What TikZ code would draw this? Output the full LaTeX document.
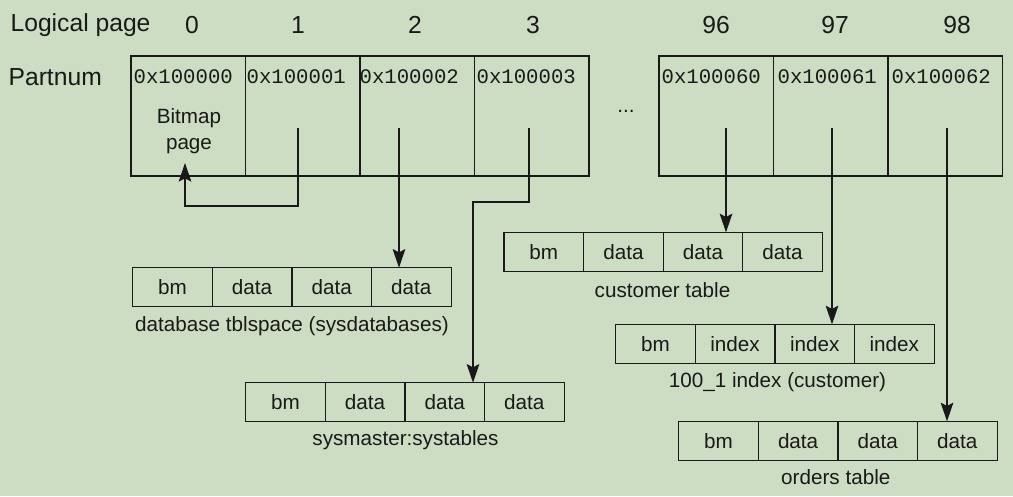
\documentclass[tikz,border=0pt]{standalone}
\usepackage{fontspec}
\setmainfont{Liberation Sans}
\newfontfamily\hexfont{Liberation Mono}
\usetikzlibrary{positioning,arrows.meta}
\definecolor{sheet}{RGB}{205,221,195}
\definecolor{ink}{RGB}{25,25,25}
\tikzset{
	pagecell/.style={draw=ink, minimum width=85.875pt, minimum height=90pt, inner sep=0pt, outer sep=0pt},
	slot/.style={draw=ink, minimum width=59.7pt, minimum height=29.25pt, inner sep=0pt, outer sep=0pt, font=\fontsize{15.5}{18}\selectfont},
	hex/.style={anchor=west, inner sep=0pt, font=\hexfont\fontsize{15.5}{18}\selectfont},
	head/.style={inner sep=0pt, font=\fontsize{18.5}{22}\selectfont},
	caption/.style={inner sep=0pt, font=\fontsize{15.5}{18}\selectfont},
	ptr/.style={draw=ink, -{Stealth[length=14pt,width=9.5pt,inset=2.5pt]}},
}
\begin{document}
		\begin{tikzpicture}[x=0.75pt,y=-0.75pt,line width=0.9pt,text=ink]
			\fill [sheet] (0,0) rectangle (1013,496);
			% headings
			\node [head, anchor=west] (logical) at (10,25) {Logical page};
			\node [head, anchor=west] (partnum) at (8,77) {Partnum};
			\node [head] (n0) at (192,25) {0};
			\node [head] (n1) at (298,25) {1};
			\node [head] (n2) at (415,25) {2};
			\node [head] (n3) at (533,25) {3};
			\node [head] (n96) at (716,25) {96};
			\node [head] (n97) at (835,25) {97};
			\node [head] (n98) at (957,25) {98};
			% partition pages
			\node [pagecell] (p0) at (188.25,116) {};
			\node [pagecell, right=0pt of p0] (p1) {};
			\node [pagecell, right=0pt of p1] (p2) {};
			\node [pagecell, right=0pt of p2] (p3) {};
			\node [pagecell] (p96) at (716.25,116) {};
			\node [pagecell, right=0pt of p96] (p97) {};
			\node [pagecell, right=0pt of p97] (p98) {};
			\node [hex] (h0) at (133,77) {0x100000};
			\node [hex] (h1) at (246,77) {0x100001};
			\node [hex] (h2) at (359,77) {0x100002};
			\node [hex] (h3) at (476,77) {0x100003};
			\node [hex] (h96) at (661,77) {0x100060};
			\node [hex] (h97) at (777,77) {0x100061};
			\node [hex] (h98) at (891,77) {0x100062};
			\node [caption, align=center] (bitmap) at (189,131) {Bitmap\\[2pt]page};
			\node [caption] (dots) at (626,111) {...};
			% tblspaces
			\node [slot] (db1) at (172.5,287.2) {bm};
			\node [slot, right=0pt of db1] (db2) {data};
			\node [slot, right=0pt of db2] (db3) {data};
			\node [slot, right=0pt of db3] (db4) {data};
			\node [caption] (dbcap) at (292,326) {database tblspace (sysdatabases)};
			\node [slot] (sm1) at (285.5,402.2) {bm};
			\node [slot, right=0pt of sm1] (sm2) {data};
			\node [slot, right=0pt of sm2] (sm3) {data};
			\node [slot, right=0pt of sm3] (sm4) {data};
			\node [caption] (smcap) at (405.5,440) {sysmaster:systables};
			\node [slot] (cu1) at (543.8,251.8) {bm};
			\node [slot, right=0pt of cu1] (cu2) {data};
			\node [slot, right=0pt of cu2] (cu3) {data};
			\node [slot, right=0pt of cu3] (cu4) {data};
			\node [caption] (cucap) at (662.5,290) {customer table};
			\node [slot] (ix1) at (655.5,343.8) {bm};
			\node [slot, right=0pt of ix1] (ix2) {index};
			\node [slot, right=0pt of ix2] (ix3) {index};
			\node [slot, right=0pt of ix3] (ix4) {index};
			\node [caption] (ixcap) at (777.5,382.3) {100\_1 index (customer)};
			\node [slot] (or1) at (718.5,440.8) {bm};
			\node [slot, right=0pt of or1] (or2) {data};
			\node [slot, right=0pt of or2] (or3) {data};
			\node [slot, right=0pt of or3] (or4) {data};
			\node [caption] (orcap) at (835.8,476.7) {orders table};
			% pointers
			\coordinate (s1) at (298,128);
			\coordinate (s2) at (399,128);
			\coordinate (s3) at (529,128);
			\coordinate (s96) at (726,128);
			\coordinate (s97) at (832,128);
			\coordinate (s98) at (947,128);
			\coordinate (t0) at (185,163);
			\coordinate (k3) at (473,202);
			\draw [ptr] (s1) -- ++(0,78) -| (t0);
			\draw [ptr] (s2) -- (s2 |- db4.north);
			\draw [ptr] (s3) |- (k3) -- (k3 |- sm3.north);
			\draw [ptr] (s96) -- (s96 |- cu3.north);
			\draw [ptr] (s97) -- (s97 |- ix3.north);
			\draw [ptr] (s98) -- (s98 |- or4.north);
		\end{tikzpicture}
\end{document}
